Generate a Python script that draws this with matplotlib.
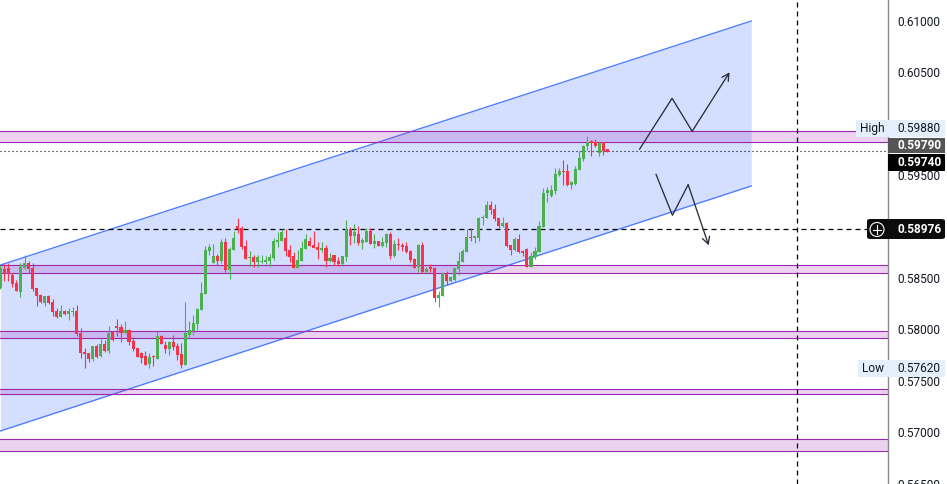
import matplotlib
matplotlib.use("Agg")
import matplotlib.pyplot as plt
from matplotlib.patches import FancyBboxPatch, Rectangle

plt.rcParams['font.family'] = ['Roboto', 'DejaVu Sans']

W, H = 947, 484

# ——— CANDLES ———
opens = [58400,58588,58594,58532,58451,58364,58597,58649,58601,58403,58335,58257,58325,58267,58179,58121,58179,58150,58173,58179,
         57965,57780,57771,57712,57839,57741,57858,57790,57975,58033,58023,57965,57994,57887,57819,57771,57741,57664,57738,57712,
         57936,57848,57809,57878,57839,57761,57654,57946,57985,58053,58189,58344,58763,58646,58714,58665,58850,58578,58772,59006,
         58987,58812,58695,58705,58656,58656,58656,58666,58695,58850,58860,58889,58773,58714,58598,58666,58782,58860,58821,58802,
         58773,58792,58666,58724,58666,58636,58705,58977,58909,58928,58841,58850,58957,58831,58860,58812,58841,58928,58714,58831,
         58821,58812,58763,58685,58607,58821,58559,58607,58598,58308,58325,58545,58471,58480,58587,58655,58753,58899,58889,58889,
         59083,59083,59210,59171,59083,59006,59035,58821,58772,58879,58762,58782,58607,58704,58753,58996,59327,59297,59346,59502,
         59541,59541,59404,59414,59550,59657,59784,59832,59823,59716,59823,59755]
highs = [58626,58636,58643,58545,58481,58643,58724,58669,58643,58403,58344,58325,58335,58293,58205,58237,58189,58205,58215,58237,
         58014,57819,57771,57839,57858,57907,57897,58033,57985,58101,58053,58082,58004,57926,57819,57780,57790,57771,57751,57985,
         57946,57887,57887,57946,57868,57868,58267,58082,58140,58208,58461,58811,58831,58831,58734,58879,58889,58802,58957,59084,
         59006,58870,58763,58724,58724,58724,58714,58734,58889,58948,58977,58977,58821,58753,58773,58860,58928,58899,58957,58850,
         58850,58821,58743,58724,58705,58714,59064,58996,59026,59006,58889,58987,58987,58928,58860,58899,58938,58948,58870,58889,
         58841,58850,58773,58695,58831,58850,58607,58636,58607,58373,58545,58571,58519,58597,58753,58782,58976,58986,58908,59093,
         59113,59249,59249,59220,59083,59093,59044,58821,58899,58928,58772,58792,58753,58801,59054,59375,59385,59404,59570,59570,
         59648,59609,59443,59589,59735,59793,59881,59842,59852,59823,59823,59755]
lows = [58390,58474,58474,58416,58374,58318,58588,58545,58374,58228,58254,58228,58247,58130,58111,58118,58140,58092,58130,57936,
        57719,57625,57683,57696,57722,57735,57780,57771,57887,57936,57878,57962,57848,57790,57732,57673,57654,57625,57644,57712,
        57858,57771,57751,57800,57702,57625,57654,57907,57946,57994,58189,58344,58724,58646,58623,58646,58558,58490,58772,58938,
        58782,58685,58617,58607,58607,58646,58636,58617,58675,58802,58860,58714,58656,58598,58598,58666,58782,58812,58792,58685,
        58753,58607,58656,58627,58617,58627,58666,58821,58841,58821,58782,58850,58831,58792,58812,58802,58802,58685,58705,58773,
        58763,58743,58656,58598,58559,58549,58549,58559,58267,58218,58325,58432,58461,58471,58529,58655,58753,58860,58840,58860,
        59015,59083,59122,59054,58986,58996,58801,58723,58762,58743,58714,58607,58607,58685,58753,58996,59239,59288,59317,59492,
        59404,59395,59365,59404,59550,59638,59745,59686,59774,59686,59696,59725]
closes = [58594,58542,58536,58442,58374,58610,58649,58584,58390,58325,58263,58325,58257,58169,58121,58179,58150,58179,58179,57955,
          57771,57761,57712,57839,57732,57858,57790,57965,57897,58014,57965,57994,57878,57809,57732,57722,57654,57732,57732,57936,
          57858,57809,57878,57829,57751,57654,57965,57994,58062,58199,58354,58772,58802,58714,58665,58850,58578,58782,58889,58977,
          58802,58685,58705,58656,58705,58666,58675,58705,58860,58870,58948,58763,58705,58598,58675,58792,58880,58812,58792,58773,
          58792,58666,58695,58656,58636,58714,58977,58909,58948,58841,58870,58957,58831,58860,58812,58850,58928,58714,58831,58821,
          58802,58753,58675,58598,58821,58559,58588,58588,58306,58334,58545,58471,58509,58597,58665,58762,58899,58889,58908,59083,
          59093,59210,59161,59074,59006,59035,58811,58772,58879,58753,58743,58607,58714,58762,59006,59327,59356,59356,59511,59541,
          59531,59404,59434,59560,59667,59784,59823,59813,59784,59813,59735,59725]

# price bands (bottom, top) and channel end points
band_bottoms = [0.59820, 0.58545, 0.57913, 0.57368, 0.56814]
band_tops    = [0.59930, 0.58623, 0.57982, 0.57417, 0.56931]
channel_bars  = [0.0, 186.8]
channel_upper = [0.58626, 0.61000]
channel_lower = [0.57012, 0.59395]

# hand drawn scenario paths (bar, price)
up_bars     = [159.0, 167.1, 172.1, 181.4]
up_prices   = [0.59752, 0.60248, 0.59927, 0.60501]
down_bars   = [163.1, 167.2, 171.1, 176.2]
down_prices = [0.59509, 0.59110, 0.59408, 0.58818]

# ——— AXIS ———
y_ticks = [0.610, 0.605, 0.600, 0.595, 0.590, 0.585, 0.580, 0.575, 0.570, 0.565]
last_price = 0.59740
ask_price  = 0.59790
cross_price = 0.58976
high_price = 0.59880
low_price  = 0.57620
cross_bar  = 198.3

BAR_STEP = 4.02
PLOT_W = 888
LINE_COL = '#2a2e39'


def px_x(x):
    return x / W


def px_y(y):
    return 1 - y / H


def label_box(fig, x0, x1, y0, y1, color, rounded=False):
    if rounded:
        patch = FancyBboxPatch((px_x(x0), px_y(y1)), (x1 - x0) / W, (y1 - y0) / H,
                               boxstyle="round,pad=0,rounding_size=0.004",
                               transform=fig.transFigure, fc=color, ec='none', zorder=5)
    else:
        patch = Rectangle((px_x(x0), px_y(y1)), (x1 - x0) / W, (y1 - y0) / H,
                          transform=fig.transFigure, fc=color, ec='none', zorder=5)
    fig.add_artist(patch)


def label_text(fig, x, y, s, color, weight='normal', ha='left'):
    fig.text(px_x(x), px_y(y), s, color=color, fontsize=8.6, fontweight=weight,
             ha=ha, va='center', zorder=6)


def main():
    fig = plt.figure(figsize=(W / 100, H / 100), dpi=100)
    ax = fig.add_axes([0, 0, PLOT_W / W, 1])
    ax.set_xlim(-0.1, (PLOT_W - 0.3) / BAR_STEP)
    ax.set_ylim(0.564961, 0.612043)

    # channel
    ax.fill_between(channel_bars, channel_lower, channel_upper, color='#2962ff', alpha=0.2, lw=0, zorder=1)
    ax.plot(channel_bars, channel_upper, color='#4b7bff', lw=0.95, zorder=2)
    ax.plot(channel_bars, channel_lower, color='#4b7bff', lw=0.95, zorder=2)

    # purple zones
    for lo, hi in zip(band_bottoms, band_tops):
        ax.axhspan(lo, hi, fc='#9c27b0', alpha=0.2, ec='none', zorder=2)
        ax.axhline(lo, color='#9c27b0', lw=0.8, zorder=2)
        ax.axhline(hi, color='#9c27b0', lw=0.8, zorder=2)

    # price and cross lines
    ax.axhline(last_price, color='black', lw=0.8, ls=(0, (1, 2.6)), zorder=3)
    ax.axhline(cross_price, color='black', lw=0.9, ls=(0, (4, 3.2)), zorder=3)
    ax.axvline(cross_bar, color='black', lw=0.9, ls=(0, (4, 3.2)), zorder=3)

    # candles
    for i, (o, h, l, c) in enumerate(zip(opens, highs, lows, closes)):
        color = '#4caf50' if c >= o else '#f7334a'
        ax.vlines(i, l / 1e5, h / 1e5, color=color, lw=0.8, zorder=4)
        bottom, top = min(o, c) / 1e5, max(o, c) / 1e5
        ax.add_patch(Rectangle((i - 0.38, bottom), 0.76, max(top - bottom, 0.00008),
                               fc=color, ec='none', zorder=4, snap=True))

    # scenario arrows
    for bars, prices in ((up_bars, up_prices), (down_bars, down_prices)):
        ax.plot(bars[:-1], prices[:-1], color=LINE_COL, lw=0.95, zorder=4, solid_capstyle='round')
        ax.annotate('', xy=(bars[-1], prices[-1]), xytext=(bars[-2], prices[-2]),
                    arrowprops=dict(arrowstyle='->,head_length=0.5,head_width=0.27',
                                    color=LINE_COL, lw=0.95, shrinkA=0, shrinkB=0), zorder=4)

    # right hand scale
    ax.yaxis.tick_right()
    ax.set_yticks(y_ticks)
    ax.set_yticklabels([f"{t:.5f}" for t in y_ticks], fontsize=8.6, color='#131722')
    ax.tick_params(axis='y', length=0, pad=6.5)
    ax.set_xticks([])
    for side in ('top', 'left', 'bottom'):
        ax.spines[side].set_visible(False)
    ax.spines['right'].set_color('#8a8a8a')
    ax.spines['right'].set_linewidth(1)

    # scale labels
    label_box(fig, 856, 945, 120, 137, '#e3effd')
    label_text(fig, 860, 128.5, 'High', '#131722')
    label_text(fig, 897, 128.5, f"{high_price:.5f}", '#131722')
    label_box(fig, 858, 945, 360, 377, '#e3effd')
    label_text(fig, 862, 368.5, 'Low', '#131722')
    label_text(fig, 897, 368.5, f"{low_price:.5f}", '#131722')
    label_box(fig, 888, 945, 138, 153, '#555555')
    label_text(fig, 897, 145.5, f"{ask_price:.5f}", 'white', 'bold')
    label_box(fig, 888, 945, 154, 171, 'black')
    label_text(fig, 897, 162.5, f"{last_price:.5f}", 'white', 'bold')
    label_box(fig, 867, 945, 219, 239, '#0c0c0c', rounded=True)
    label_text(fig, 897, 229.5, f"{cross_price:.5f}", 'white', 'bold')

    # plus button on the crosshair label
    button = plt.Circle((877, H - 229.5), 7, transform=None, fc='none', ec='white', lw=0.8, zorder=6)
    fig.add_artist(button)
    fig.add_artist(plt.Line2D([px_x(873), px_x(881)], [px_y(229.5)] * 2, color='white', lw=0.8, zorder=6))
    fig.add_artist(plt.Line2D([px_x(877)] * 2, [px_y(225.5), px_y(233.5)], color='white', lw=0.8, zorder=6))

    fig.savefig('out.png', dpi=100)


if __name__ == "__main__":
    main()
